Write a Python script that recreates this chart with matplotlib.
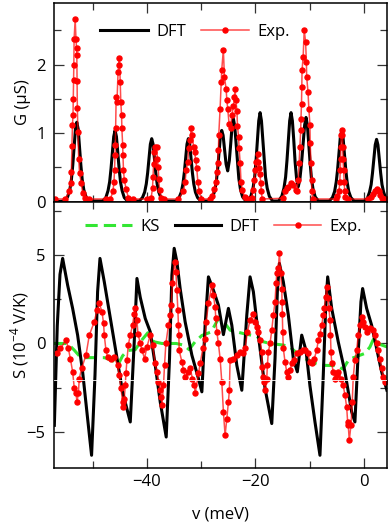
import numpy as np
import matplotlib
matplotlib.use('Agg')
import matplotlib.pyplot as plt
from matplotlib.ticker import MultipleLocator

plt.rcParams['font.family'] = ['Open Sans', 'DejaVu Sans']
plt.rcParams['font.size'] = 12

# ---- conductance G (uS) ----
g_dft_x = [-57.1, -55.2, -54.6, -54.2, -53.9, -53.65, -53.4, -53.15, -52.9, -52.65, -52.4, -52.15, -51.9, -51.6, -51.2, -50.6,
           -48.15, -47.55, -47.15, -46.85, -46.6, -46.35, -46.1, -45.85, -45.6, -45.35, -45.1, -44.85, -44.55, -44.15, -43.55,
           -41.4, -40.8, -40.4, -40.1, -39.85, -39.6, -39.35, -39.1, -38.85, -38.6, -38.35, -38.1, -37.8, -37.4, -36.8,
           -34.65, -34.05, -33.65, -33.35, -33.1, -32.85, -32.6, -32.35, -32.1, -31.85, -31.6, -31.35, -31.05, -30.65, -30.05,
           -28.5, -27.9, -27.5, -27.2, -26.95, -26.7, -26.45, -26.2, -25.95, -25.7, -25.4, -25.1, -24.8, -24.55, -24.3, -24.05,
           -23.8, -23.55, -23.3, -23.05, -22.75, -22.35, -21.75,
           -21.43, -20.83, -20.43, -20.13, -19.88, -19.63, -19.38, -19.13, -18.88, -18.63, -18.38, -18.13, -17.83, -17.43, -16.83,
           -15.73, -15.13, -14.73, -14.43, -14.18, -13.93, -13.68, -13.43, -13.18, -12.93, -12.68, -12.4, -12.1, -11.8, -11.5,
           -11.2, -10.92, -10.67, -10.42, -10.17, -9.92, -9.67, -9.37, -8.97, -8.37,
           -6.4, -5.8, -5.4, -5.1, -4.85, -4.6, -4.35, -4.1, -3.85, -3.6, -3.35, -3.1, -2.8, -2.4, -1.8,
           0.03, 0.63, 1.03, 1.33, 1.58, 1.83, 2.08, 2.33, 2.58, 2.83, 3.08, 3.33, 3.63, 4.03, 4.63]
g_dft_y = [0.0, 0.01, 0.07, 0.17, 0.32, 0.53, 0.80, 1.06, 1.16, 1.06, 0.80, 0.53, 0.32, 0.17, 0.07, 0.01,
           0.01, 0.06, 0.16, 0.29, 0.48, 0.72, 0.95, 1.04, 0.95, 0.72, 0.48, 0.29, 0.16, 0.06, 0.01,
           0.01, 0.06, 0.14, 0.26, 0.42, 0.63, 0.84, 0.92, 0.84, 0.63, 0.42, 0.26, 0.14, 0.06, 0.01,
           0.01, 0.06, 0.14, 0.26, 0.42, 0.63, 0.84, 0.92, 0.84, 0.63, 0.42, 0.26, 0.14, 0.06, 0.01,
           0.01, 0.06, 0.16, 0.29, 0.48, 0.72, 0.95, 1.04, 0.97, 0.78, 0.55, 0.45, 0.60, 0.84, 1.10, 1.21,
           1.10, 0.84, 0.56, 0.34, 0.18, 0.07, 0.01,
           0.01, 0.08, 0.20, 0.36, 0.60, 0.90, 1.18, 1.30, 1.18, 0.90, 0.60, 0.36, 0.20, 0.08, 0.01,
           0.01, 0.08, 0.20, 0.36, 0.60, 0.90, 1.18, 1.30, 1.18, 0.90, 0.58, 0.33, 0.22, 0.33, 0.56,
           0.85, 1.12, 1.23, 1.12, 0.85, 0.57, 0.34, 0.18, 0.07, 0.01,
           0.01, 0.06, 0.15, 0.29, 0.47, 0.71, 0.94, 1.03, 0.94, 0.71, 0.47, 0.29, 0.15, 0.06, 0.01,
           0.01, 0.05, 0.14, 0.25, 0.42, 0.63, 0.83, 0.91, 0.83, 0.63, 0.42, 0.25, 0.14, 0.05, 0.01]

g_exp = [(-57.0, 0.04), (-55.0, 0.04), (-54.3, 0.15), (-54.0, 0.28), (-53.9, 0.43), (-53.8, 0.82), (-53.7, 1.12),
         (-53.6, 1.26), (-53.55, 1.5), (-53.5, 1.78), (-53.45, 2.0), (-53.4, 2.37), (-53.2, 2.66), (-53.05, 2.37),
         (-52.95, 2.25), (-52.9, 2.14), (-52.85, 1.76), (-52.8, 1.37), (-52.7, 1.02), (-52.55, 0.62), (-52.4, 0.42),
         (-52.1, 0.28), (-51.8, 0.12), (-51.3, 0.06), (-50.7, 0.04),
         (-47.5, 0.04), (-46.7, 0.04), (-46.25, 0.15), (-46.05, 0.29), (-45.95, 0.46), (-45.85, 0.68), (-45.8, 0.83),
         (-45.75, 1.07), (-45.65, 1.53), (-45.5, 1.46), (-45.3, 1.89), (-45.2, 1.99), (-45.05, 2.10), (-44.9, 1.75),
         (-44.8, 1.46), (-44.65, 1.26), (-44.6, 1.07), (-44.45, 0.83), (-44.4, 0.68), (-44.3, 0.46), (-44.15, 0.32),
         (-43.8, 0.18), (-43.4, 0.06), (-42.5, 0.04),
         (-40.0, 0.04), (-39.2, 0.06), (-38.95, 0.2), (-38.85, 0.36), (-38.75, 0.55), (-38.6, 0.72), (-38.45, 0.8),
         (-38.2, 0.8), (-38.05, 0.62), (-37.9, 0.5), (-37.8, 0.33), (-37.65, 0.17), (-37.4, 0.06), (-36.8, 0.04),
         (-34.2, 0.04), (-33.25, 0.15), (-32.95, 0.29), (-32.75, 0.46), (-32.45, 0.58), (-32.3, 0.78), (-32.0, 0.9),
         (-31.85, 1.07), (-31.6, 0.97), (-31.4, 0.80), (-31.2, 0.73), (-31.0, 0.61), (-30.8, 0.49), (-30.6, 0.29),
         (-30.35, 0.15), (-30.0, 0.04),
         (-28.35, 0.04), (-28.05, 0.09), (-27.55, 0.19), (-27.3, 0.29), (-27.1, 0.44), (-26.95, 0.56), (-26.8, 0.75),
         (-26.75, 0.97), (-26.5, 1.36), (-26.3, 1.75), (-26.2, 1.92), (-25.9, 2.22), (-25.7, 1.82), (-25.4, 1.65),
         (-25.25, 1.48), (-25.1, 1.36), (-24.85, 1.14), (-24.55, 1.07), (-24.35, 1.26), (-24.05, 1.39), (-23.85, 1.53),
         (-23.75, 1.65), (-23.6, 1.48), (-23.4, 1.33), (-23.3, 1.11), (-23.1, 0.95), (-23.0, 0.78), (-22.8, 0.56),
         (-22.65, 0.29), (-22.4, 0.17), (-22.0, 0.07), (-21.6, 0.04),
         (-21.0, 0.04), (-20.7, 0.06), (-20.4, 0.17), (-20.2, 0.32), (-20.0, 0.46), (-19.85, 0.58), (-19.6, 0.69),
         (-19.45, 0.58), (-19.3, 0.49), (-19.15, 0.4), (-19.0, 0.27), (-18.9, 0.15), (-18.75, 0.04),
         (-14.9, 0.05), (-14.55, 0.15), (-14.2, 0.2), (-13.9, 0.22), (-13.45, 0.28), (-13.0, 0.24), (-12.6, 0.17),
         (-12.4, 0.16), (-12.1, 0.31), (-11.95, 0.56), (-11.8, 0.8), (-11.65, 1.04), (-11.6, 1.21), (-11.5, 1.43),
         (-11.45, 1.68), (-11.4, 1.92), (-11.2, 2.11), (-11.0, 2.51), (-10.75, 2.33), (-10.6, 2.04), (-10.55, 1.82),
         (-10.3, 1.6), (-10.15, 1.36), (-9.95, 1.12), (-9.9, 0.85), (-9.75, 0.56), (-9.65, 0.31), (-9.6, 0.15),
         (-9.45, 0.04),
         (-5.2, 0.04), (-4.9, 0.08), (-4.6, 0.15), (-4.45, 0.29), (-4.35, 0.46), (-4.3, 0.62), (-4.25, 0.8),
         (-4.2, 0.97), (-4.1, 1.04), (-3.95, 0.98), (-3.9, 0.8), (-3.85, 0.62), (-3.75, 0.46), (-3.65, 0.29),
         (-3.55, 0.16), (-3.4, 0.07), (-3.0, 0.04),
         (0.8, 0.04), (1.3, 0.07), (1.7, 0.11), (2.0, 0.15), (2.35, 0.19), (2.7, 0.15), (3.0, 0.1), (3.3, 0.06),
         (3.7, 0.04), (4.3, 0.04)]

# ---- thermopower S (1e-4 V/K) ----
s_ks = [(-57.1, 0.0), (-54.59, 0.0), (-53.36, -0.38), (-52.16, -0.8), (-47.84, -0.8), (-46.31, -0.95), (-45.39, -1.25),
        (-44.47, -0.7), (-43.55, -0.4), (-42.14, -0.35), (-40.9, 0.2), (-39.83, 0.6), (-38.77, 0.1), (-37.22, 0.0),
        (-34.59, 0.0), (-33.12, -0.1), (-32.2, -0.35), (-31.1, 0.1), (-29.86, 0.45), (-28.15, 0.65), (-26.81, 1.4),
        (-26.13, 1.35), (-24.66, 0.75), (-22.21, 0.56), (-19.74, 0.4), (-18.58, 0.1), (-17.3, 0.0), (-14.85, -0.09),
        (-13.62, -0.2), (-12.33, -0.55), (-10.86, -0.85), (-9.57, -1.05), (-8.1, -1.23), (-5.02, -1.25), (-3.86, -1.45),
        (-2.76, -0.9), (-1.05, -0.7), (0.18, -0.56), (1.1, -0.2), (1.84, 0.3), (2.94, -0.05), (4.3, -0.2)]

s_dft = [(-57.04, -4.62), (-56.5, 1.0), (-56.0, 3.9), (-55.51, 4.8), (-54.59, 3.29), (-53.67, 1.98), (-52.75, 0.47),
         (-51.83, -1.6), (-50.91, -4.24), (-50.18, -6.31), (-49.55, -1.79), (-49.07, 2.92), (-48.63, 4.8), (-47.84, 3.48),
         (-46.92, 1.79), (-45.69, -0.47), (-44.47, -2.73), (-43.05, -4.43), (-42.32, 0.09), (-41.82, 3.67), (-41.21, 2.6),
         (-40.29, 1.41), (-39.37, 0.66), (-38.45, -1.23), (-37.53, -3.3), (-36.43, -5.28), (-35.82, -0.85), (-35.38, 3.86),
         (-34.96, 5.37), (-34.46, 4.61), (-33.86, 3.1), (-32.94, 1.22), (-31.7, -0.66), (-30.49, -1.98), (-29.86, -2.73),
         (-29.26, 1.03), (-28.65, 3.76), (-27.73, 3.01), (-26.81, 2.16), (-26.5, 1.6), (-25.89, 0.5), (-24.97, 1.98),
         (-24.34, 1.03), (-23.42, -1.23), (-22.5, -2.64), (-21.58, 1.6), (-20.98, 3.76), (-20.37, 2.92), (-19.45, 0.47),
         (-18.22, -2.54), (-16.98, -4.52), (-16.38, -0.85), (-15.95, 2.92), (-15.58, 4.52), (-14.85, 3.48), (-13.93, 1.6),
         (-13.01, -0.85), (-12.27, -1.6), (-11.46, 0.47), (-10.67, -0.4), (-9.94, -2.4), (-9.02, -4.43), (-8.1, -6.31),
         (-7.49, -1.79), (-7.05, 1.98), (-6.68, 3.76), (-5.94, 1.98), (-4.73, 0.09), (-3.5, -1.6), (-2.26, -3.86),
         (-1.66, -4.43), (-1.05, -0.47), (-0.55, 2.35), (-0.24, 3.1), (0.5, 1.98), (1.42, 1.03), (2.34, -0.28),
         (3.26, -1.6), (4.23, -2.64)]

s_exp = [(-56.54, -0.51), (-55.93, -0.28), (-54.88, 0.19), (-54.46, -0.28), (-54.09, -0.85), (-53.67, -1.6), (-53.36, -2.54),
         (-53.05, -2.82), (-52.86, -3.3), (-52.62, -2.82), (-52.44, -1.98), (-52.02, -1.41), (-51.21, -0.66), (-50.6, 0.47),
         (-49.68, 1.22), (-49.18, 1.88), (-48.76, 2.26), (-48.26, 1.79), (-47.97, 1.13), (-47.84, 0.47), (-47.53, -0.38),
         (-47.23, -0.76), (-46.61, -0.85), (-46.0, -0.76), (-45.39, -1.23), (-45.08, -1.79), (-44.77, -2.54), (-44.47, -3.3),
         (-44.34, -3.58), (-44.16, -3.11), (-43.97, -2.36), (-43.85, -1.69), (-43.66, -0.94), (-43.42, -0.09), (-43.05, 0.47),
         (-42.63, 1.03), (-42.32, 1.69), (-42.14, 2.02), (-41.82, 1.32), (-41.64, 0.56), (-41.21, 0.0), (-40.9, -0.38),
         (-40.42, -0.85), (-39.98, -0.19), (-39.37, 0.47), (-38.95, -0.09), (-38.45, -1.13), (-38.14, -1.6), (-37.85, -2.17),
         (-37.53, -2.64), (-37.35, -3.01), (-37.22, -3.48), (-36.93, -2.36), (-36.74, -1.23), (-36.49, 0.0), (-36.01, 1.03),
         (-35.69, 1.6), (-35.51, 2.16), (-35.27, 3.39), (-34.9, 4.61), (-34.64, 4.05), (-34.46, 3.01), (-34.28, 1.88),
         (-34.17, 1.03), (-34.1, 0.47), (-34.04, -0.38), (-33.54, -1.04), (-33.25, -1.51), (-32.94, -1.89), (-32.33, -1.6),
         (-32.01, -1.41), (-31.59, -1.98), (-31.22, -2.36), (-31.1, -2.82), (-30.49, -1.69), (-30.17, -1.13), (-29.68, -0.28),
         (-29.26, 0.28), (-29.07, 1.22), (-28.65, 2.26), (-28.02, 3.29), (-27.73, 2.73), (-27.42, 2.07), (-27.29, 1.41),
         (-27.1, 0.66), (-26.81, 0.0), (-26.5, -0.85), (-26.18, -2.2), (-25.89, -3.86), (-25.58, -5.18), (-25.26, -4.24),
         (-24.97, -3.3), (-24.79, -2.64), (-24.66, -0.94), (-24.05, -0.85), (-23.42, -0.66), (-22.82, -0.47), (-22.21, -0.56),
         (-21.9, -0.28), (-21.47, 0.66), (-20.98, 1.32), (-20.37, 1.69), (-20.06, 1.22), (-19.74, 0.94), (-19.45, 0.66),
         (-19.14, 0.19), (-18.82, -0.47), (-18.75, -1.32), (-18.64, -1.89), (-18.34, -2.17), (-18.22, -2.64), (-17.9, -1.98),
         (-17.79, -1.23), (-17.61, -0.47), (-17.3, 0.0), (-16.98, 0.75), (-16.69, 1.6), (-16.38, 2.35), (-16.19, 3.39),
         (-16.06, 3.95), (-15.77, 4.24), (-15.58, 5.08), (-15.33, 3.95), (-15.14, 3.1), (-15.09, 2.35), (-15.03, 1.69),
         (-14.96, 0.66), (-14.85, -0.28), (-14.54, -1.04), (-14.22, -1.6), (-13.93, -1.89), (-13.62, -1.51), (-13.3, -1.13),
         (-12.88, -0.94), (-12.38, -0.56), (-11.78, -0.47), (-11.17, -0.38), (-10.86, -0.35), (-10.36, -0.56), (-9.94, -1.04),
         (-9.62, -1.13), (-9.14, -0.85), (-8.7, -0.38), (-8.41, 0.19), (-8.1, 0.56), (-7.78, 1.03), (-7.49, 1.6),
         (-7.3, 1.98), (-7.05, 2.63), (-6.86, 3.2), (-6.68, 2.54), (-6.44, 1.98), (-6.26, 1.32), (-6.16, 0.47),
         (-6.07, -0.47), (-5.94, -1.13), (-5.65, -1.6), (-5.34, -1.98), (-5.02, -1.79), (-4.73, -1.6), (-4.23, -1.98),
         (-3.81, -2.36), (-3.5, -2.92), (-3.18, -3.58), (-3.0, -4.43), (-2.89, -4.62), (-2.7, -5.46), (-2.39, -4.62),
         (-2.15, -3.3), (-1.97, -1.89), (-1.66, -0.94), (-1.34, -0.38), (-1.05, 0.47), (-0.74, 1.03), (-0.42, 1.5),
         (-0.13, 1.22), (0.18, 0.94), (0.5, 0.66), (1.1, 0.85), (1.71, 0.75), (2.02, 0.47), (2.34, 0.0), (2.63, -0.38),
         (2.94, -0.85), (3.26, -1.41), (3.55, -1.89), (3.86, -2.17)]

g_exp = np.array(g_exp)
s_ks = np.array(s_ks)
s_dft = np.array(s_dft)
s_exp = np.array(s_exp)

red_line = dict(color=(1, 0, 0, 0.7), lw=1.1, marker='o', ms=3.6, mfc='red', mec='red')

fig = plt.figure(figsize=(3.9, 5.23), dpi=100)
ax1 = fig.add_axes([0.1385, 0.6143, 0.8538, 0.380])
ax2 = fig.add_axes([0.1385, 0.1061, 0.8538, 0.5082])

ax1.plot(g_dft_x, g_dft_y, color='black', lw=2.2, solid_joinstyle='round', label='DFT')
ax1.plot(g_exp[:, 0], g_exp[:, 1], label='Exp.', **red_line)

ax2.plot(s_ks[:, 0], s_ks[:, 1], color='#33e633', lw=2.2, ls=(0, (4, 2)), label='KS')
ax2.plot(s_dft[:, 0], s_dft[:, 1], color='black', lw=2.2, solid_joinstyle='round', label='DFT')
ax2.plot(s_exp[:, 0], s_exp[:, 1], label='Exp.', **red_line)
ax2.axhline(-2.07, color='white', lw=0.6, zorder=10)

for ax in (ax1, ax2):
    ax.set_xlim(-57.1, 4.25)
    ax.xaxis.set_major_locator(MultipleLocator(20))
    ax.xaxis.set_minor_locator(MultipleLocator(10))
    ax.tick_params(which='both', direction='in', top=True, right=True, color='#333333', width=0.9)
    ax.tick_params(which='major', length=7)
    ax.tick_params(which='minor', length=5)
    ax.tick_params(axis='y', pad=6)
    ax.tick_params(axis='x', pad=4.5)
    for sp in ax.spines.values():
        sp.set_linewidth(1.1)

ax1.set_ylim(0, 2.9)
ax1.yaxis.set_major_locator(MultipleLocator(1))
ax1.yaxis.set_minor_locator(MultipleLocator(0.5))
ax1.tick_params(labelbottom=False)
ax1.set_ylabel('G (μS)')
ax1.yaxis.set_label_coords(-0.068, 0.5)

ax2.set_ylim(-7, 8)
ax2.yaxis.set_major_locator(MultipleLocator(5))
ax2.yaxis.set_minor_locator(MultipleLocator(2.5))
ax2.set_ylabel(r'S (10$^{\mathregular{-4}}$ V/K)')
ax2.yaxis.set_label_coords(-0.068, 0.5)
ax2.set_xlabel('v (meV)')
ax2.xaxis.set_label_coords(0.5, -0.146)

ax1.legend(loc='center', bbox_to_anchor=(0.423, 0.854), ncol=2, frameon=False, numpoints=1,
           handlelength=2.9, handletextpad=0.5, columnspacing=0.9, borderpad=0, borderaxespad=0)
ax2.legend(loc='center', bbox_to_anchor=(0.509, 0.905), ncol=3, frameon=False, numpoints=1,
           handlelength=2.8, handletextpad=0.5, columnspacing=0.9, borderpad=0, borderaxespad=0)

fig.savefig('out.png', dpi=100)
